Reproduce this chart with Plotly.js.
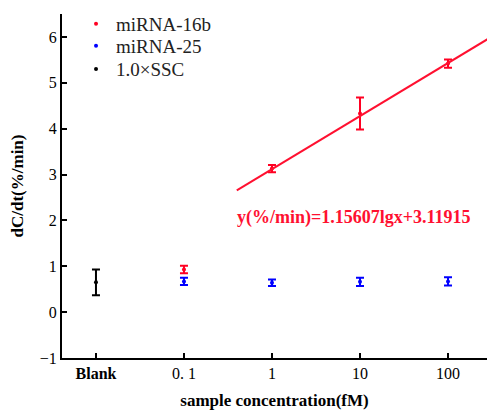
<!DOCTYPE html>
<html><head><meta charset="utf-8">
<script src="https://cdn.plot.ly/plotly-3.0.1.min.js"></script>
<style>body{margin:0;background:#fff}#c{width:487px;height:410px}</style>
</head><body><div id="c"></div>
<script>
// category positions (index) and labels
const tickPos = [0, 1, 2, 3, 4];
const tickLabels = ['<b>Blank</b>', '0. 1', '1', '10', '100'];

// miRNA-16b (red)
const red_x = [1, 2, 3, 4];
const red_y = [0.93, 3.13, 4.33, 5.42];
const red_err = [0.08, 0.08, 0.35, 0.09];

// miRNA-25 (blue)
const blue_x = [1, 2, 3, 4];
const blue_y = [0.67, 0.64, 0.66, 0.67];
const blue_err = [0.08, 0.07, 0.09, 0.09];

// 1.0xSSC (black)
const black_x = [0];
const black_y = [0.65];
const black_err = [0.28];

// fit: y = slope*lg(x) + intercept ; lg(x)= index-2
const slope = 1.15607, intercept = 3.11915;
const fitLg = [-0.4, 2.6];
const fit_x = fitLg.map(v => v + 2);
const fit_y = fitLg.map(v => slope * v + intercept);

const serif = '"Liberation Serif", "Times New Roman", serif';

function pts(x, y, e, color, name, leg) {
  return {
    x: x, y: y, type: 'scatter', mode: 'markers', name: name, legend: leg,
    marker: {color: color, size: 4},
    error_y: {type: 'data', array: e, visible: true, color: color, thickness: 2, width: 4}
  };
}

const data = [
  pts(red_x, red_y, red_err, '#ff0022', 'miRNA-16b', 'legend'),
  pts(blue_x, blue_y, blue_err, '#0000ff', 'miRNA-25', 'legend2'),
  pts(black_x, black_y, black_err, '#000000', '1.0×SSC', 'legend3'),
  {x: fit_x, y: fit_y, type: 'scatter', mode: 'lines', showlegend: false,
   line: {color: '#ff1030', width: 2}}
];

function leg(y) {
  return {x: 0.033, y: y, xanchor: 'left', yanchor: 'middle', bgcolor: 'rgba(0,0,0,0)',
          font: {family: serif, size: 19, color: '#222'}};
}

const layout = {
  width: 487, height: 410,
  margin: {l: 62, r: 0, t: 14, b: 52},
  paper_bgcolor: '#fff', plot_bgcolor: '#fff',
  font: {family: serif, size: 15, color: '#000'},
  showlegend: true,
  legend: leg(0.971),
  legend2: leg(0.907),
  legend3: leg(0.840),
  xaxis: {
    range: [-0.386, 4.443], tickmode: 'array', tickvals: tickPos, ticktext: tickLabels,
    showgrid: false, zeroline: false, showline: true, linecolor: '#000', linewidth: 2,
    ticks: 'inside', ticklen: 5, tickwidth: 2, tickcolor: '#000',
    tickfont: {family: serif, size: 16},
    title: {text: '<b>sample concentration(fM)</b>', font: {family: serif, size: 17}, standoff: 14}
  },
  yaxis: {
    range: [-1, 6.5], tickvals: [-1, 0, 1, 2, 3, 4, 5, 6],
    showgrid: false, zeroline: false, showline: true, linecolor: '#000', linewidth: 2,
    ticks: 'inside', ticklen: 5, tickwidth: 2, tickcolor: '#000',
    tickfont: {family: serif, size: 16},
    title: {text: '<b>dC/dt(%/min)</b>', font: {family: serif, size: 17}, standoff: 12}
  },
  annotations: [{
    x: 2.93, y: 2.06, xref: 'x', yref: 'y', showarrow: false,
    text: '<b>y(%/min)=' + slope + 'lgx+' + intercept + '</b>',
    font: {family: serif, size: 18, color: '#ff1030'}
  }]
};

Plotly.newPlot('c', data, layout, {displayModeBar: false, staticPlot: true});
</script>
</body></html>
